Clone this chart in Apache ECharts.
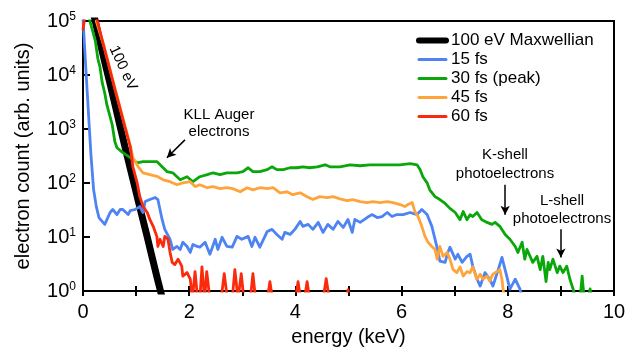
<!DOCTYPE html>
<html>
<head>
<meta charset="utf-8">
<script src="https://cdn.jsdelivr.net/npm/echarts@6/dist/echarts.min.js"></script>
<style>
  html, body { margin: 0; padding: 0; background: #fff; }
  #chart { width: 639px; height: 352px; }
</style>
</head>
<body>
<div id="chart"></div>
<script>
// energy (keV) / electron count pairs
const maxwell100 = [
  [0.10, 400000], [0.20, 135000], [0.30, 50000], [0.40, 19000], [0.50, 7500],
  [0.60, 2900], [0.70, 1100], [0.80, 430], [0.90, 170], [1.00, 68],
  [1.10, 27], [1.20, 11], [1.30, 4.3], [1.40, 1.7], [1.50, 0.7], [1.60, 0.28]
];

const fs15 = [
  [0.00, 110000], [0.05, 15000], [0.10, 2200], [0.15, 330], [0.20, 75], [0.25, 37],
  [0.30, 23], [0.36, 19.5], [0.41, 17.2], [0.51, 28.5], [0.56, 32.4], [0.64, 26.1],
  [0.70, 32.4], [0.75, 32.4], [0.85, 26.1], [0.89, 31], [0.98, 32.4], [1.07, 36.7],
  [1.13, 28.5], [1.17, 45.5], [1.26, 49.5], [1.36, 54], [1.41, 49.5], [1.49, 21.2],
  [1.54, 13.9], [1.64, 9.1], [1.69, 5.9], [1.77, 6.7], [1.83, 5.9], [1.88, 8.0],
  [1.96, 6.7], [2.02, 5.2], [2.07, 7.3], [2.15, 6.7], [2.20, 6.5], [2.30, 8.0],
  [2.39, 4.8], [2.49, 9.1], [2.54, 5.9], [2.62, 9.9], [2.71, 6.7], [2.81, 6.5],
  [2.90, 10.3], [2.99, 9.1], [3.11, 10.3], [3.18, 6.7], [3.24, 9.9], [3.33, 6.5],
  [3.47, 12.7], [3.56, 13.9], [3.65, 11.2], [3.75, 9.1], [3.80, 12.2], [3.90, 11.2],
  [3.99, 13.9], [4.09, 19.5], [4.14, 15.8], [4.24, 17.2], [4.33, 13.9], [4.43, 18.7],
  [4.52, 12.2], [4.61, 17.2], [4.71, 13.9], [4.80, 19.5], [4.90, 15.1], [4.99, 21.2],
  [5.07, 12.2], [5.12, 21.2], [5.22, 18.7], [5.35, 23], [5.44, 26.1], [5.54, 23],
  [5.63, 24], [5.73, 28.5], [5.82, 24], [5.91, 26.1], [6.03, 26.1], [6.16, 28.5],
  [6.29, 26.1], [6.38, 32.4], [6.48, 26.1], [6.57, 15.8], [6.63, 9.1], [6.69, 5.2],
  [6.72, 3.6], [6.82, 3.4], [6.87, 5.2], [6.91, 6.5], [7.01, 3.9], [7.06, 4.8],
  [7.14, 3.4], [7.23, 4.4], [7.29, 4.8], [7.34, 2.9], [7.42, 1.66], [7.48, 1.24],
  [7.57, 2.2], [7.66, 1.66], [7.72, 1.24], [7.82, 2.5], [7.89, 4.2], [7.98, 1.89],
  [8.04, 1.09], [8.14, 1.66], [8.23, 1.09], [8.30, 0.6]
];

const fs30 = [
  [0.10, 150000], [0.13, 100000], [0.23, 44000], [0.28, 20000], [0.32, 14000],
  [0.36, 7400], [0.41, 4600], [0.45, 2800], [0.51, 1700], [0.55, 1200], [0.60, 580],
  [0.64, 450], [0.75, 365], [0.89, 295], [1.02, 237], [1.13, 250], [1.26, 250],
  [1.39, 250], [1.49, 200], [1.58, 163], [1.69, 155], [1.83, 115], [1.96, 131],
  [2.07, 106], [2.20, 131], [2.34, 143], [2.45, 155], [2.58, 143], [2.71, 155],
  [2.90, 155], [3.01, 163], [3.11, 192], [3.20, 163], [3.33, 163], [3.47, 177],
  [3.56, 200], [3.65, 177], [3.77, 177], [3.90, 192], [4.03, 192], [4.14, 200],
  [4.27, 192], [4.41, 200], [4.56, 218], [4.65, 200], [4.84, 200], [5.03, 218],
  [5.22, 209], [5.40, 218], [5.59, 218], [5.78, 218], [5.97, 218], [6.16, 228],
  [6.29, 218], [6.35, 177], [6.40, 131], [6.48, 101], [6.53, 75], [6.63, 56],
  [6.72, 49.5], [6.82, 42], [6.91, 34], [7.01, 28.5], [7.10, 21], [7.16, 29.7],
  [7.23, 21], [7.29, 26], [7.34, 24], [7.42, 28.5], [7.51, 21], [7.61, 18.7],
  [7.70, 17.2], [7.76, 18.7], [7.85, 15.8], [7.95, 11.2], [8.04, 9.1], [8.14, 6.7],
  [8.19, 5.2], [8.27, 8.0], [8.32, 3.9], [8.36, 5.9], [8.42, 4.4], [8.47, 3.4],
  [8.55, 4.4], [8.61, 2.5], [8.66, 4.4], [8.72, 1.5], [8.76, 3.4], [8.79, 2.5],
  [8.85, 3.9], [8.93, 2.2], [8.98, 2.9], [9.04, 2.2], [9.11, 2.9], [9.17, 1.66],
  [9.23, 1.09], [9.28, 0.7], [9.36, 0.7], [9.40, 1.9], [9.44, 0.7], [9.52, 0.7],
  [9.55, 1.1], [9.58, 0.7]
];

const fs45 = [
  [0.25, 100000], [0.40, 33000], [0.60, 5800], [0.80, 1050], [0.89, 500],
  [0.94, 295], [1.04, 200], [1.13, 155], [1.26, 143], [1.41, 131], [1.51, 115],
  [1.64, 106], [1.77, 93], [1.88, 101], [2.02, 106], [2.11, 86], [2.20, 93],
  [2.34, 82], [2.45, 86], [2.58, 79], [2.71, 82], [2.82, 79], [2.96, 69],
  [3.09, 82], [3.20, 75], [3.33, 82], [3.47, 79], [3.58, 82], [3.71, 66],
  [3.84, 69], [3.95, 61], [4.09, 66], [4.22, 56], [4.33, 49.5], [4.46, 56],
  [4.60, 54], [4.71, 56], [4.84, 51], [4.97, 47.5], [5.08, 49.5], [5.22, 45.5],
  [5.35, 43.6], [5.46, 45.5], [5.59, 43.6], [5.73, 45.5], [5.84, 43.6], [5.97, 40],
  [6.06, 36.7], [6.12, 40], [6.20, 43.6], [6.25, 29.7], [6.31, 24], [6.38, 15.8],
  [6.44, 10.3], [6.50, 8.0], [6.57, 6.7], [6.63, 5.9], [6.67, 3.9], [6.72, 6.7],
  [6.78, 4.4], [6.86, 5.2], [6.91, 3.9], [6.97, 2.5], [7.04, 2.2], [7.10, 2.8],
  [7.16, 1.89], [7.23, 2.3], [7.29, 2.2], [7.34, 2.8], [7.42, 1.66], [7.48, 2.06],
  [7.53, 1.66], [7.61, 1.89], [7.66, 1.53], [7.72, 2.06], [7.80, 2.3], [7.85, 2.5],
  [7.89, 1.66], [7.91, 1.09], [7.95, 0.6]
];

const fs60 = [
  [0.00, 70000], [0.04, 130000], [0.20, 220000], [0.27, 100000], [0.40, 32000],
  [0.60, 5500], [0.80, 1000], [0.89, 470], [0.94, 200], [1.02, 101], [1.07, 56],
  [1.13, 37], [1.21, 28.5], [1.26, 21], [1.32, 16], [1.39, 10.3], [1.41, 6.7],
  [1.45, 9.1], [1.51, 6.7], [1.54, 10.3], [1.60, 9.1], [1.64, 5.2], [1.68, 3.4],
  [1.73, 3.1], [1.79, 3.9], [1.86, 2.9], [1.88, 1.9], [1.96, 2.2], [2.02, 1.66],
  [2.06, 0.7], [2.11, 2.3], [2.16, 0.7], [2.20, 0.7], [2.24, 2.8], [2.29, 0.7],
  [2.33, 2.3], [2.39, 0.7], [2.60, 0.7], [2.66, 2.1], [2.72, 0.7], [2.81, 0.7],
  [2.86, 2.5], [2.92, 0.7], [2.94, 0.7], [2.98, 2.1], [3.03, 0.7], [3.15, 0.7],
  [3.20, 2.1], [3.25, 0.7], [3.47, 0.7], [3.52, 1.5], [3.57, 0.7], [4.00, 0.7],
  [4.05, 1.5], [4.10, 0.7], [4.17, 0.7], [4.22, 1.5], [4.27, 0.7], [4.52, 0.7],
  [4.58, 1.7], [4.64, 0.7], [4.96, 0.7], [4.99, 1.05], [5.02, 0.7], [5.20, 0.7]
];

const xTicks = [0, 2, 4, 6, 8, 10];

// arrow annotations: [from, to] in data units
const arrows = [
  [[1.92, 630], [1.58, 295]],
  [[7.95, 93], [7.95, 26]],
  [[9.00, 13.9], [9.00, 4.2]]
];

const FONT = 'Liberation Sans, Arial, Helvetica, sans-serif';

const chart = echarts.init(document.getElementById('chart'));

function line(name, data, color, width) {
  return {
    name: name,
    type: 'line',
    data: data,
    symbol: 'none',
    showSymbol: false,
    clip: true,
    xAxisIndex: 0,
    lineStyle: { color: color, width: width, cap: 'round', join: 'round' },
    itemStyle: { color: color },
    animation: false
  };
}

const black = line('100 eV Maxwellian', maxwell100, '#000', 7);
black.markLine = {
  silent: true,
  animation: false,
  symbol: ['none', 'arrow'],
  symbolSize: [7, 9],
  label: { show: false },
  lineStyle: { color: '#000', width: 1.5, type: 'solid' },
  data: arrows.map(a => [{ coord: a[0] }, { coord: a[1] }])
};

const option = {
  animation: false,
  textStyle: { fontFamily: FONT },
  grid: {
    left: 83, right: 25, top: 21, bottom: 60,
    show: true, borderColor: '#000', borderWidth: 2, backgroundColor: 'transparent'
  },
  legend: {
    left: 411, top: 27,
    orient: 'vertical',
    itemWidth: 27, itemHeight: 12, itemGap: 2,
    itemStyle: { opacity: 0 },
    textStyle: { fontSize: 17, color: '#000', fontFamily: FONT, lineHeight: 17 },
    data: [
      { name: '100 eV Maxwellian', lineStyle: { width: 6, cap: 'round' } },
      { name: '15 fs', lineStyle: { width: 3 } },
      { name: '30 fs (peak)', lineStyle: { width: 3 } },
      { name: '45 fs', lineStyle: { width: 3 } },
      { name: '60 fs', lineStyle: { width: 3 } }
    ]
  },
  xAxis: [{
    type: 'value', min: 0, max: 10, interval: 1,
    name: 'energy (keV)', nameLocation: 'middle', nameGap: 35,
    nameTextStyle: { fontSize: 20, color: '#000', fontFamily: FONT },
    axisLine: { lineStyle: { color: '#000', width: 2 } },
    axisTick: { length: 5, lineStyle: { color: '#000', width: 2 } },
    axisLabel: {
      margin: 11, fontSize: 20, color: '#000', fontFamily: FONT,
      formatter: v => xTicks.indexOf(v) >= 0 ? String(v) : ''
    },
    splitLine: { show: false }
  }, {
    type: 'value', min: 0, max: 10, interval: 1, position: 'bottom', offset: 0,
    axisLine: { show: false },
    axisTick: { inside: true, length: 5, lineStyle: { color: '#000', width: 2 } },
    axisLabel: { show: false },
    splitLine: { show: false }
  }],
  yAxis: {
    type: 'log', logBase: 10, min: 1, max: 100000,
    name: 'electron count (arb. units)', nameLocation: 'middle', nameGap: 50,
    nameTextStyle: { fontSize: 20, color: '#000', fontFamily: FONT },
    axisLine: { show: true, lineStyle: { color: '#000', width: 2 } },
    axisTick: { inside: true, length: 7, lineStyle: { color: '#000', width: 2 } },
    axisLabel: {
      margin: 7, color: '#000', fontFamily: FONT,
      formatter: v => '{b|10}{s|' + Math.round(Math.log10(v)) + '}',
      rich: {
        b: { fontSize: 20, lineHeight: 20, fontFamily: FONT, color: '#000' },
        s: { fontSize: 12, lineHeight: 12, verticalAlign: 'top', fontFamily: FONT, color: '#000' }
      }
    },
    splitLine: { show: false },
    minorTick: { show: false }
  },
  graphic: [
    {
      type: 'text', x: 123, y: 68, rotation: -65 * Math.PI / 180,
      style: { text: '100 eV', fontSize: 15, fontFamily: FONT, fill: '#000', textAlign: 'center', textVerticalAlign: 'middle' }
    },
    {
      type: 'text', x: 219, y: 123.5,
      style: { text: 'KLL Auger\nelectrons', fontSize: 15, lineHeight: 17, fontFamily: FONT, fill: '#000', textAlign: 'center', textVerticalAlign: 'middle' }
    },
    {
      type: 'text', x: 505, y: 164.5,
      style: { text: 'K-shell\nphotoelectrons', fontSize: 15, lineHeight: 18.5, fontFamily: FONT, fill: '#000', textAlign: 'center', textVerticalAlign: 'middle' }
    },
    {
      type: 'text', x: 562, y: 210,
      style: { text: 'L-shell\nphotoelectrons', fontSize: 15, lineHeight: 18.5, fontFamily: FONT, fill: '#000', textAlign: 'center', textVerticalAlign: 'middle' }
    }
  ],
  series: [
    black,
    line('15 fs', fs15, '#4d83f2', 2.8),
    line('30 fs (peak)', fs30, '#0aa70a', 2.8),
    line('45 fs', fs45, '#ffa43a', 2.8),
    line('60 fs', fs60, '#fc2a0c', 2.8)
  ]
};

chart.setOption(option);
</script>
</body>
</html>
